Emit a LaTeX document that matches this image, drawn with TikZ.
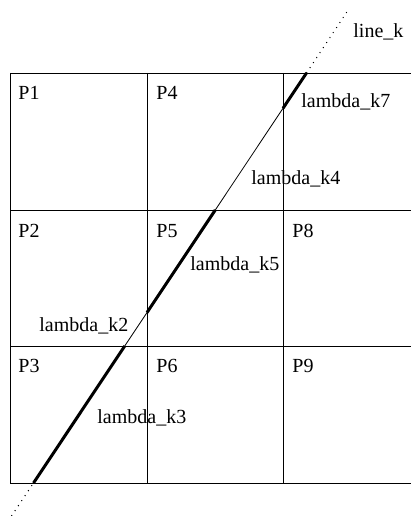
\documentclass[tikz,border=0pt]{standalone}
\usepackage{fontspec}
\setmainfont{Liberation Serif}
\usetikzlibrary{calc}
\usetikzlibrary{positioning}

\begin{document}
\begin{tikzpicture}[x=1bp,y=-1bp,line width=0.8bp,
					font=\fontsize{20bp}{24bp}\selectfont]
					\tikzstyle{cell}=[anchor=base west,inner sep=0pt]
					\tikzstyle{seg}=[line width=3bp]
					\tikzstyle{ext}=[line width=1bp,dash pattern=on 1bp off 5bp]
					\useasboundingbox (0,0) rectangle (411,516);
					
					% grid
					\foreach \y in {73,210,346,483}
					\draw (10,\y) -- (411,\y);
					\foreach \x in {10,147,283}
					\draw (\x,73) -- (\x,483);
					
					\node[cell] (P1) at (18,100) {P1};
					\node[cell] (P4) at (156,100) {P4};
					\node[cell] (P2) at (18,237) {P2};
					\node[cell] (P5) at (156,237) {P5};
					\node[cell] (P8) at (292,237) {P8};
					\node[cell] (P3) at (18,372) {P3};
					\node[cell] (P6) at (156,372) {P6};
					\node[cell] (P9) at (292,372) {P9};
					
					% the line and its pieces
					\coordinate (lo)  at (11.5,516);
					\coordinate (hi)  at (349.5,8);
					\coordinate (k0)  at (33.5,483);
					\coordinate (k3)  at ($(k0)!0.3341!(306.5,73)$);
					\coordinate (k2)  at ($(k0)!0.4158!(306.5,73)$);
					\coordinate (k5)  at ($(k0)!0.6659!(306.5,73)$);
					\coordinate (k4)  at ($(k0)!0.9139!(306.5,73)$);
					\coordinate (k7)  at (306.5,73);
					
					\draw[ext] (lo) -- (k0);
					\draw[ext] (k7) -- (hi);
					\draw (k0) -- (k7);
					\draw[seg] (k0) -- (k3);
					\draw[seg] (k2) -- (k5);
					\draw[seg] (k4) -- (k7);
					
					\node[cell] (lk)  at (353,38)  {line\_k};
					\node[cell] (l7)  at (301,108) {lambda\_k7};
					\node[cell] (l4)  at (251,185) {lambda\_k4};
					\node[cell] (l5)  at (190,270) {lambda\_k5};
					\node[cell] (l2)  at (39,331)  {lambda\_k2};
					\node[cell] (l3)  at (97,423)  {lambda\_k3};
\end{tikzpicture}
\end{document}
